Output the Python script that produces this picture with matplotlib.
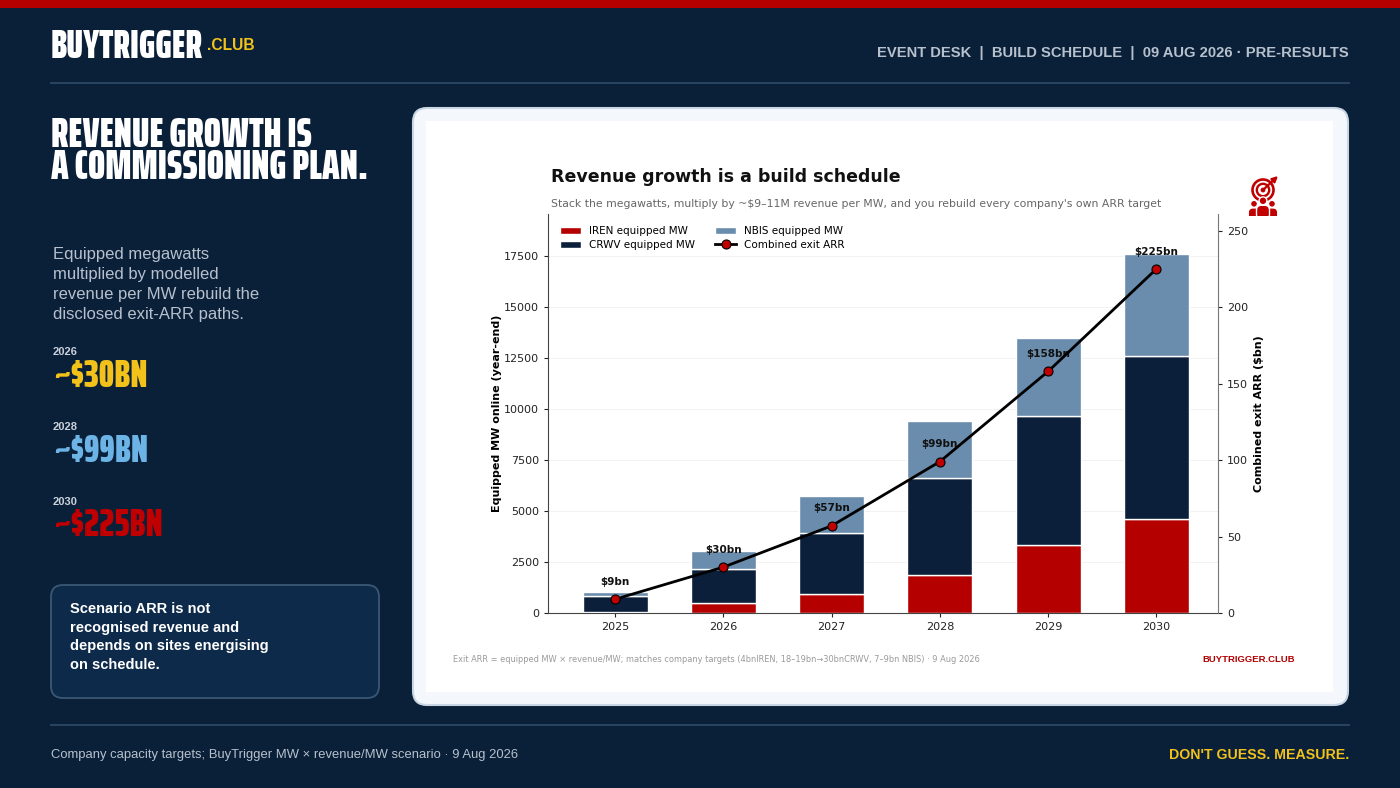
import matplotlib
matplotlib.use('Agg')
import matplotlib.pyplot as plt
from matplotlib import font_manager as fm
from matplotlib.textpath import TextPath
from matplotlib.patches import FancyBboxPatch, Rectangle, Circle, FancyArrowPatch

# ---------------- data ----------------
years = ['2025', '2026', '2027', '2028', '2029', '2030']
iren_mw = [40, 500, 950, 1860, 3310, 4600]
crwv_mw = [800, 1670, 2960, 4760, 6360, 7980]
nbis_mw = [210, 880, 1810, 2800, 3800, 4990]
exit_arr_bn = [9, 30, 57, 99, 158, 225]
arr_labels = ['$9bn', '$30bn', '$57bn', '$99bn', '$158bn', '$225bn']

left_years = ['2026', '2028', '2030']
left_values = ['~$30BN', '~$99BN', '~$225BN']

# ---------------- style ----------------
NAVY = '#0a1f38'
RED = '#b50000'
BARNAVY = '#0b1f3a'
STEEL = '#6a8cad'
YELLOW = '#f2c21b'
LBLUE = '#6cb4e6'
GREY = '#b7c1cd'
SANS = ['Liberation Sans', 'DejaVu Sans']
DV = ['DejaVu Sans']


def _weight(w):
    if isinstance(w, (int, float)):
        return int(w)
    return {'ultralight': 200, 'light': 300, 'normal': 400, 'regular': 400, 'book': 400,
            'medium': 500, 'semibold': 600, 'demibold': 600, 'bold': 700, 'extra bold': 800,
            'heavy': 800, 'black': 900}.get(str(w).lower(), 400)


def _cap(fp):
    return TextPath((0, 0), 'H', size=10, prop=fp).get_extents().height / 10.0


def _find_display_font(sample='REVENUE GROWTH IS', target_aspect=9.2):
    best = None
    seen = set()
    for f in fm.fontManager.ttflist:
        nm, fn = f.name.lower(), f.fname.lower()
        if f.fname in seen or f.style != 'normal' or 'italic' in fn or 'oblique' in fn:
            continue
        seen.add(f.fname)
        if 'cjk' in nm or 'mono' in nm or ('serif' in nm and 'sans' not in nm):
            continue
        if _weight(f.weight) < 600:
            continue
        try:
            fp = fm.FontProperties(fname=f.fname)
            w = TextPath((0, 0), sample, size=10, prop=fp).get_extents().width / 10.0
            c = _cap(fp)
            if c <= 0:
                continue
            score = abs(w / c - target_aspect)
        except Exception:
            continue
        if best is None or score < best[0]:
            best = (score, f.fname)
    return best[1] if best else None


_dpath = _find_display_font()
if _dpath:
    _dfp = fm.FontProperties(fname=_dpath)
    COND = dict(fontproperties=_dfp)
    CAP = _cap(_dfp)
else:
    _dfp = fm.FontProperties(family='DejaVu Sans', weight='bold')
    COND = dict(family=DV, fontweight='bold')
    CAP = 0.73

fig = plt.figure(figsize=(14, 7.88), dpi=100)
fig.patch.set_facecolor(NAVY)
renderer = fig.canvas.get_renderer()


def fit(t, width, cap_px=None):
    w = t.get_window_extent(renderer).width
    size = t.get_fontsize()
    if w > 0:
        size = size * width / w
    if cap_px is not None:
        size = min(size, cap_px / (CAP * 100 / 72.0))
    t.set_fontsize(size)
    return t


bg = fig.add_axes([0, 0, 1, 1], zorder=0)
bg.set_xlim(0, 1400)
bg.set_ylim(788, 0)
bg.axis('off')

# top stripe & rules
bg.add_patch(Rectangle((0, 0), 1400, 8, facecolor=RED, edgecolor='none'))
bg.plot([51, 1349], [83, 83], color='#2c4866', lw=1.3)
bg.plot([51, 1349], [725, 725], color='#2c4866', lw=1.3)


def ctext(x, y, s, color, size, width, cap_px, ha='left', **kw):
    t = bg.text(x, y, s, color=color, fontsize=size, va='center', ha=ha, **COND, **kw)
    return fit(t, width, cap_px)


# header
ctext(51, 47, 'BUYTRIGGER', 'white', 28, 152, 28)
fit(bg.text(207, 45, '.CLUB', color=YELLOW, fontsize=10, fontweight='bold',
            family=SANS, va='center', ha='left'), 48)
t_hdr = bg.text(1349, 53, 'EVENT DESK  |  BUILD SCHEDULE  |  09 AUG 2026 · PRE-RESULTS',
                color=GREY, fontsize=11, va='center', ha='right', family=SANS, fontweight='bold')
fit(t_hdr, 469)

# left panel headline (one two-line text, line step tuned to 31 px)
headline = 'REVENUE GROWTH IS\nA COMMISSIONING PLAN.'
th = ctext(51, 151, headline, 'white', 30, 317, 29, linespacing=1.0)
t_one = bg.text(51, 151, 'A COMMISSIONING PLAN.', fontsize=th.get_fontsize(), va='center', **COND)
step = th.get_window_extent(renderer).height - t_one.get_window_extent(renderer).height
t_one.remove()
if step > 0:
    th.set_linespacing(31.0 / step)

para = ['Equipped megawatts', 'multiplied by modelled', 'revenue per MW rebuild the',
        'disclosed exit-ARR paths.']
for i, line in enumerate(para):
    bg.text(53, 254 + i * 20, line, color=GREY, fontsize=12, family=SANS, va='center')

kpi_colors = [YELLOW, LBLUE, '#c00000']
kpi_widths = [97, 97, 111]
for i, (yr, val, c, w) in enumerate(zip(left_years, left_values, kpi_colors, kpi_widths)):
    y0 = 352 + i * 75
    bg.text(53, y0, yr, color='#c9d1db', fontsize=8, fontweight='bold', family=SANS, va='center')
    ctext(53, y0 + 24, val, c, 28, w, 27)

bg.add_patch(FancyBboxPatch((51, 585), 328, 113, boxstyle='round,pad=0,rounding_size=12',
                            facecolor='#0d2a4a', edgecolor='#3a5874', lw=1.3))
box_lines = ['Scenario ARR is not', 'recognised revenue and', 'depends on sites energising',
             'on schedule.']
for i, line in enumerate(box_lines):
    bg.text(70, 609 + i * 18.7, line, color='white', fontsize=10.5, fontweight='bold',
            family=SANS, va='center')

# footer
bg.text(51, 755, 'Company capacity targets; BuyTrigger MW × revenue/MW scenario · 9 Aug 2026',
        color=GREY, fontsize=9.35, family=SANS, va='center')
fit(bg.text(1349, 755, "DON'T GUESS. MEASURE.", color=YELLOW, fontsize=11, va='center',
            ha='right', family=SANS, fontweight='bold'), 179)

# chart card
bg.add_patch(FancyBboxPatch((413, 108), 935, 597, boxstyle='round,pad=0,rounding_size=14',
                            facecolor='#f4f7fb', edgecolor='#c9d6e3', lw=1.5))
bg.add_patch(Rectangle((426, 121), 907, 571, facecolor='white', edgecolor='none'))

bg.text(551, 177, 'Revenue growth is a build schedule', color='#111111', fontsize=12.5,
        fontweight='bold', family=DV, va='center')
bg.text(551, 204, "Stack the megawatts, multiply by ~\\$9–11M revenue per MW, and you rebuild every company's own ARR target",
        color='#666666', fontsize=7.85, family=DV, va='center')
bg.text(453, 659, 'Exit ARR = equipped MW × revenue/MW; matches company targets (4bnIREN, 18–19bn→30bnCRWV, 7–9bn NBIS) · 9 Aug 2026',
        color='#9a9a9a', fontsize=5.95, family=DV, va='center')
fit(bg.text(1295, 659, 'BUYTRIGGER.CLUB', color='#b00000', fontsize=7, fontweight='bold',
            family=SANS, va='center', ha='right'), 92)

# icon (target + team)
ICON = '#c00000'
cx, cy = 1263, 190
bg.add_patch(Circle((cx, cy), 10.5, facecolor='white', edgecolor=ICON, lw=1.9))
bg.add_patch(Circle((cx, cy), 6.2, facecolor='white', edgecolor=ICON, lw=1.7))
bg.add_patch(Circle((cx, cy), 2.4, facecolor=ICON, edgecolor='none'))
bg.add_patch(FancyArrowPatch((cx, cy), (cx + 15, cy - 14), arrowstyle='-|>',
                             mutation_scale=8, color=ICON, lw=1.6, shrinkA=0, shrinkB=0))
people = [(-9, 203.8, 3.5, 11.5), (9, 203.8, 3.5, 11.5), (0, 200.8, 3.9, 13.0)]
for dx, hy, rh, bw in people:
    px = cx + dx
    bg.add_patch(FancyBboxPatch((px - bw / 2, hy + rh + 0.6), bw, 14,
                                boxstyle='round,pad=0,rounding_size=4.8',
                                facecolor=ICON, edgecolor='white', lw=1.0))
    bg.add_patch(Circle((px, hy), rh, facecolor=ICON, edgecolor='white', lw=1.0))
bg.add_patch(Rectangle((1240, 215.5), 45, 10, facecolor='white', edgecolor='none'))

# ---------------- chart ----------------
ax = fig.add_axes([548 / 1400, (788 - 613) / 788, 670 / 1400, 399 / 788], zorder=2)
ax.set_facecolor('white')
x = list(range(len(years)))
bottom2 = [a + b for a, b in zip(iren_mw, crwv_mw)]
b1 = ax.bar(x, iren_mw, width=0.6, color=RED, edgecolor='white', lw=1)
b2 = ax.bar(x, crwv_mw, width=0.6, bottom=iren_mw, color=BARNAVY, edgecolor='white', lw=1)
b3 = ax.bar(x, nbis_mw, width=0.6, bottom=bottom2, color=STEEL, edgecolor='white', lw=1)
ax.set_xlim(-0.62, 5.57)
ax.set_ylim(0, 19540)
ax.set_xticks(x)
ax.set_xticklabels(years)
ax.set_yticks(range(0, 17501, 2500))
ax.tick_params(labelsize=8, colors='#222222', length=3)
ax.set_ylabel('Equipped MW online (year-end)', fontsize=8, fontweight='bold', family=DV,
              labelpad=1)
ax.grid(axis='y', color='#f0f0f0', lw=0.6)
ax.set_axisbelow(True)
ax.spines['top'].set_visible(False)
ax.spines['right'].set_visible(False)
for s in ('left', 'bottom'):
    ax.spines[s].set_color('#444444')

ax2 = ax.twinx()
ln, = ax2.plot(x, exit_arr_bn, color='black', lw=2, marker='o', markersize=6.5,
               markerfacecolor='#c00000', markeredgecolor='black', markeredgewidth=0.8,
               zorder=5)
ax2.set_ylim(0, 261)
ax2.set_yticks(range(0, 251, 50))
ax2.tick_params(labelsize=8, colors='#222222', length=3)
ax2.set_ylabel('Combined exit ARR ($bn)', fontsize=8, fontweight='bold', family=DV)
for s in ('top', 'left', 'bottom'):
    ax2.spines[s].set_visible(False)
ax2.spines['right'].set_color('#777777')
for xi, v, lab in zip(x, exit_arr_bn, arr_labels):
    ax2.annotate(lab.replace('$', '\\$'), (xi, v), xytext=(0, 9), textcoords='offset points',
                 ha='center', va='bottom', fontsize=7.5, fontweight='bold', color='#111111')

ax.legend([b1, b2, b3, ln], ['IREN equipped MW', 'CRWV equipped MW', 'NBIS equipped MW',
                              'Combined exit ARR'],
          loc='upper left', ncol=2, frameon=False, fontsize=7.5, columnspacing=1.9,
          handlelength=2.0, borderaxespad=0.78, labelspacing=0.35)
ax.set_zorder(2)
ax2.set_zorder(3)

fig.savefig('out.png', dpi=100, facecolor=NAVY)
